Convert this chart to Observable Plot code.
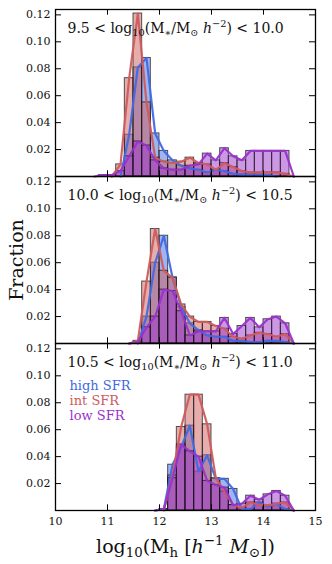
<!DOCTYPE html>
<html><head><meta charset="utf-8">
<script src="https://cdn.jsdelivr.net/npm/d3@7"></script>
<script src="https://cdn.jsdelivr.net/npm/@observablehq/plot@0.6"></script>
<style>
html,body{margin:0;padding:0;background:#fff}
#chart{width:332px;height:564px;overflow:hidden}
</style>
</head><body><div id="chart"></div>
<script>
// ---- data (fraction per halo-mass bin) ----
const binStart = 10, binWidth = 1 / 6, firstBin = 4;   // bins k=4..28
const seriesNames = ["high SFR", "int SFR", "low SFR"];
const seriesColors = ["#4169e1", "#cd5c5c", "#9932cc"];
const panelLabels = ["A0", "A1", "A2"];

const p1Blue   = [0,0,0,0,0.031,0.081,0.088,0.032,0.019,0.012,0.008,0.006,0.005,0.003,0.005,0.004,0.002,0.0015,0.0015,0.0015,0.001,0,0,0,0];
const p1Red    = [0,0,0,0.009,0.073,0.121,0.055,0.014,0.011,0.010,0.011,0.014,0.010,0.009,0.005,0.010,0.007,0.004,0.003,0.003,0.003,0.003,0.002,0,0];
const p1Purple = [0,0.001,0.001,0.004,0.015,0.026,0.023,0.012,0.006,0.005,0.005,0.008,0.009,0.017,0.012,0.021,0.015,0.012,0.019,0.019,0.019,0.019,0.019,0,0];

const p2Blue   = [0,0,0,0,0,0,0.020,0.060,0.080,0.049,0.027,0.015,0.010,0.006,0.005,0.005,0.002,0.002,0.001,0.001,0.002,0.002,0.001,0,0];
const p2Red    = [0,0,0,0,0,0.002,0.046,0.085,0.054,0.049,0.029,0.020,0.016,0.016,0.013,0.011,0.005,0.0035,0.006,0.008,0.007,0.005,0.007,0,0];
const p2Purple = [0,0,0,0,0,0.001,0.012,0.020,0.040,0.039,0.024,0.006,0.009,0.009,0.009,0.019,0.007,0.013,0.019,0.012,0.018,0.020,0.015,0,0];

const p3Blue   = [0,0,0,0,0,0,0,0,0.001,0.034,0.047,0.063,0.029,0.041,0.0235,0.0235,0.016,0.001,0.001,0.006,0.003,0.005,0.001,0,0];
const p3Red    = [0,0,0,0,0,0,0,0,0,0.026,0.062,0.086,0.086,0.064,0.024,0.014,0.004,0.002,0.006,0.004,0.004,0.005,0.006,0,0];
const p3Purple = [0,0,0,0,0,0,0,0,0.001,0.024,0.049,0.044,0.040,0.022,0.019,0.017,0.004,0.005,0.011,0.008,0.012,0.0145,0.011,0,0];

const xTicks = [10, 11, 12, 13, 14, 15];
const yTicks = [0.02, 0.04, 0.06, 0.08, 0.10, 0.12];

// ---- build tables ----
const values = [[p1Blue, p1Red, p1Purple], [p2Blue, p2Red, p2Purple], [p3Blue, p3Red, p3Purple]];
const rows = [];
const lineRows = [];
values.forEach((sers, pi) => sers.forEach((arr, si) => {
  const r = arr.map((v, i) => {
    const k = firstBin + i;
    return {panel: pi, series: si, lo: binStart + k * binWidth, hi: binStart + (k + 1) * binWidth, mid: binStart + (k + 0.5) * binWidth, v};
  });
  rows.push(...r);
  const nz = r.map((d, i) => d.v > 0 ? i : -1).filter(i => i >= 0);
  const a = Math.max(0, nz[0] - 1), b = Math.min(r.length - 1, nz[nz.length - 1] + 1);
  lineRows.push(...r.slice(a, b + 1));
}));
const bars = rows.filter(d => d.v > 0);

const W = 332, H = 564, mT = 8, mB = 54, mL = 55, mR = 17;
const facetH = (H - mT - mB) / 3, plotW = W - mL - mR;
const tick = 6;

const marks = [];
[0, 1, 2].forEach(si => marks.push(Plot.rectY(bars.filter(d => d.series === si), {
  x1: "lo", x2: "hi", y: "v", fy: "panel",
  fill: seriesColors[si], fillOpacity: 0.5, stroke: "#111", strokeOpacity: 0.7, strokeWidth: 1
})));
[0, 1, 2].forEach(si => marks.push(Plot.line(lineRows.filter(d => d.series === si), {
  x: "mid", y: "v", fy: "panel", stroke: seriesColors[si], strokeWidth: 2.2, strokeOpacity: 0.95
})));
marks.push(
  Plot.tickY(yTicks, {y: d => d, insetRight: plotW - tick, stroke: "black"}),
  Plot.tickY(yTicks, {y: d => d, insetLeft: plotW - tick, stroke: "black"}),
  Plot.tickX(xTicks.slice(1, -1), {x: d => d, insetTop: facetH - tick, stroke: "black"}),
  Plot.tickX(xTicks.slice(1, -1), {x: d => d, insetBottom: facetH - tick, stroke: "black"}),
  Plot.frame({stroke: "black", strokeWidth: 1.3}),
  Plot.axisY(yTicks, {tickSize: 0, tickPadding: 5, tickFormat: d3.format(".2f"), fontSize: 11, label: null, fill: "#111"}),
  Plot.axisX(xTicks, {tickSize: 0, tickPadding: 7, fontSize: 11, label: null, fill: "#111"}),
  Plot.text(panelLabels.map((t, i) => ({panel: i, t})), {
    fy: "panel", text: "t", frameAnchor: "top-left", dx: 12, dy: 23, lineAnchor: "bottom", textAnchor: "start", fontSize: 14, fill: "#111"
  }),
  ...[0, 1, 2].map(si => Plot.text([{panel: 2, t: seriesNames[si]}], {
    fy: "panel", text: "t", frameAnchor: "top-left", dx: 14, dy: 46 + 15 * si, lineAnchor: "bottom", textAnchor: "start", fontSize: 13, fill: seriesColors[si]
  })),
  Plot.text([{panel: 1, t: "Fraction"}], {
    fy: "panel", text: "t", frameAnchor: "left", dx: -39, rotate: -90, fontSize: 19, textAnchor: "middle", fill: "#111"
  }),
  Plot.text([{panel: 2, t: "XL"}], {
    fy: "panel", text: "t", frameAnchor: "bottom", dy: 42, lineAnchor: "bottom", textAnchor: "middle", fontSize: 19, fill: "#111"
  })
);

const chart = Plot.plot({
  width: W, height: H, marginTop: mT, marginBottom: mB, marginLeft: mL, marginRight: mR,
  x: {domain: [10, 15]},
  y: {domain: [0, 0.124]},
  fy: {domain: [0, 1, 2], padding: 0, axis: null},
  style: {fontFamily: "DejaVu Serif", background: "#fff", overflow: "visible"},
  marks
});
document.getElementById("chart").appendChild(chart);

// ---- math-style rich text (sub/superscripts) ----
const NS = "http://www.w3.org/2000/svg";
function rich(el, parts, fs) {
  el.textContent = "";
  el.style.whiteSpace = "pre";
  let shift = 0;
  for (const p of parts) {
    const ts = document.createElementNS(NS, "tspan");
    const target = p.sub ? fs * 0.25 : p.sup ? -fs * 0.42 : 0;
    if (target - shift !== 0) ts.setAttribute("dy", (target - shift).toFixed(2));
    shift = target;
    if (p.sub || p.sup) ts.setAttribute("font-size", (fs * 0.7).toFixed(1));
    if (p.it) ts.setAttribute("font-style", "italic");
    ts.textContent = p.t;
    el.appendChild(ts);
  }
}
function annot(lo, hi) {
  return [{t: lo + " < log"}, {t: "10", sub: 1}, {t: "(M"}, {t: "∗", sub: 1}, {t: "/M"}, {t: "⊙", sub: 1},
          {t: " "}, {t: "h", it: 1}, {t: "−2", sup: 1}, {t: ") < " + hi}];
}
const richMap = {
  A0: [annot("9.5", "10.0"), 14],
  A1: [annot("10.0", "10.5"), 14],
  A2: [annot("10.5", "11.0"), 14],
  XL: [[{t: "log"}, {t: "10", sub: 1}, {t: "(M"}, {t: "h", sub: 1}, {t: " ["}, {t: "h", it: 1}, {t: "−1", sup: 1},
        {t: " "}, {t: "M", it: 1}, {t: "⊙", sub: 1}, {t: "])"}], 19]
};
chart.querySelectorAll("text").forEach(el => {
  const key = el.textContent.trim();
  if (richMap[key]) rich(el, richMap[key][0], richMap[key][1]);
});
</script>
</body></html>
